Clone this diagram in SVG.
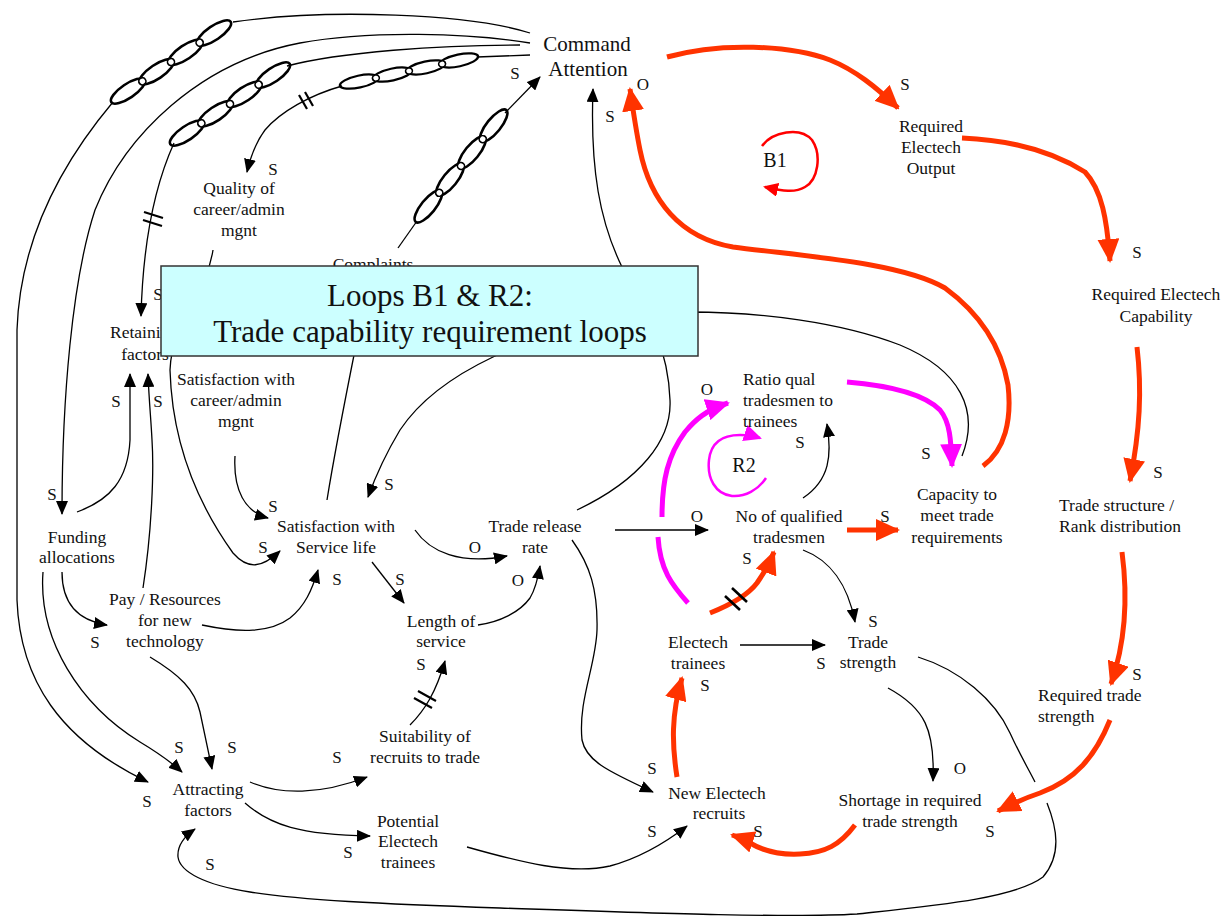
<svg xmlns="http://www.w3.org/2000/svg" width="1231" height="917" viewBox="0 0 1231 917">
<style>
.ln{fill:none;stroke:#000;stroke-width:1.3}
.red{fill:none;stroke:#FF3300;stroke-width:5}
.mag{fill:none;stroke:#FF00FF;stroke-width:5}
.hash{stroke:#000;stroke-width:2.2;fill:none}
.hr{stroke:#000;stroke-width:2.6;fill:none}
.ch ellipse{fill:none;stroke:#000;stroke-width:2.6}
.ch circle{fill:#fff;stroke:#000;stroke-width:1.6}
.t{font-family:"Liberation Serif","Times New Roman",serif;font-size:17.5px;fill:#111;text-anchor:middle}
.ts{text-anchor:start}
.p{font-family:"Liberation Serif","Times New Roman",serif;font-size:17px;fill:#111;text-anchor:middle}
</style>
<defs>
<marker id="ab" markerUnits="userSpaceOnUse" markerWidth="14" markerHeight="12" refX="13" refY="6" orient="auto"><path d="M0,0 L14,6 L0,12 z" fill="#000"/></marker>
<marker id="ar" markerUnits="userSpaceOnUse" markerWidth="24" markerHeight="22" refX="22" refY="11" orient="auto"><path d="M0,0 L24,11 L0,22 z" fill="#FF3300"/></marker>
<marker id="am" markerUnits="userSpaceOnUse" markerWidth="24" markerHeight="22" refX="22" refY="11" orient="auto"><path d="M0,0 L24,11 L0,22 z" fill="#FF00FF"/></marker>
<marker id="ab1" markerUnits="userSpaceOnUse" markerWidth="15" markerHeight="14" refX="13" refY="7" orient="auto"><path d="M0,0 L15,7 L0,14 z" fill="#FF0000"/></marker>
<marker id="ar2" markerUnits="userSpaceOnUse" markerWidth="18" markerHeight="17" refX="16" refY="8.5" orient="auto"><path d="M0,0 L18,8.5 L0,17 z" fill="#FF00FF"/></marker>
<g id="chainlink" class="ch">
<ellipse cx="-52" cy="0" rx="20" ry="7"/>
<ellipse cx="-17.5" cy="0" rx="20" ry="7"/>
<ellipse cx="17.5" cy="0" rx="20" ry="7"/>
<ellipse cx="52" cy="0" rx="20" ry="7"/>
<circle cx="-34.5" cy="0" r="3.5"/>
<circle cx="0" cy="0" r="3.5"/>
<circle cx="34.5" cy="0" r="3.5"/>
</g>
</defs>
<rect width="1231" height="917" fill="#fff"/>
<g id="connectors">
<path class="ln" d="M530,33 C470,14 330,8 233,22"/>
<path class="ln" d="M113,102 C60,165 20,240 17,330 L17,600 C20,680 60,740 148,782" marker-end="url(#ab)"/>
<path class="ln" d="M530,43 C470,33 370,30 300,43 C200,62 125,135 95,210 C72,280 62,400 62,514" marker-end="url(#ab)"/>
<path class="ln" d="M520,45 C440,45 340,52 287,66"/>
<path class="ln" d="M174,143 C155,185 143,240 141,316" marker-end="url(#ab)"/>
<path class="ln" d="M530,55 L477,57"/>
<path class="ln" d="M342,86 C310,95 280,112 265,130 C256,142 251,155 247,172" marker-end="url(#ab)"/>
<path class="ln" d="M398,248 L417,221"/>
<path class="ln" d="M505,113 L540,77" marker-end="url(#ab)"/>
<path class="ln" d="M577,510 C640,480 672,440 670,400 C668,340 640,300 622,267 C600,222 590,170 593,89" marker-end="url(#ab)"/>
<path class="ln" d="M962,456 C980,410 960,370 900,345 C840,322 760,312 690,312 C600,315 530,340 493,357 C455,375 420,400 400,430 C388,450 376,475 368,497" marker-end="url(#ab)"/>
<path class="ln" d="M213,250 C205,300 172,320 170,370 C172,440 195,500 233,553 C248,570 262,568 280,551" marker-end="url(#ab)"/>
<path class="ln" d="M327,500 C335,450 345,400 356,345"/>
<path class="ln" d="M235,456 C233,490 245,512 268,518" marker-end="url(#ab)"/>
<path class="ln" d="M77,512 C110,500 128,480 130,440 L130,374" marker-end="url(#ab)"/>
<path class="ln" d="M143,588 C152,530 154,470 152,440 C151,420 149,400 148,374" marker-end="url(#ab)"/>
<path class="ln" d="M62,572 C62,600 75,620 107,625" marker-end="url(#ab)"/>
<path class="ln" d="M43,572 C38,640 80,705 140,742 C160,754 172,763 182,772" marker-end="url(#ab)"/>
<path class="ln" d="M150,657 C180,675 195,690 200,712 L212,769" marker-end="url(#ab)"/>
<path class="ln" d="M202,625 C240,633 270,633 290,618 C305,606 312,590 318,570" marker-end="url(#ab)"/>
<path class="ln" d="M415,530 C430,552 460,565 507,556" marker-end="url(#ab)"/>
<path class="ln" d="M372,562 L404,603" marker-end="url(#ab)"/>
<path class="ln" d="M478,625 C500,622 520,612 530,598 C536,588 538,578 540,566" marker-end="url(#ab)"/>
<path class="ln" d="M410,725 C425,710 436,692 445,661" marker-end="url(#ab)"/>
<path class="ln" d="M250,782 C280,795 320,795 367,777" marker-end="url(#ab)"/>
<path class="ln" d="M245,803 C270,825 300,835 370,836" marker-end="url(#ab)"/>
<path class="ln" d="M467,847 C520,862 570,875 610,866 C640,858 665,843 687,826" marker-end="url(#ab)"/>
<path class="ln" d="M572,540 C590,565 598,590 597,630 C596,665 578,700 582,740 C586,760 605,770 653,792" marker-end="url(#ab)"/>
<path class="ln" d="M615,530 L708,530" marker-end="url(#ab)"/>
<path class="ln" d="M803,498 C830,480 832,455 827,424" marker-end="url(#ab)"/>
<path class="ln" d="M803,550 C830,560 848,585 855,622" marker-end="url(#ab)"/>
<path class="ln" d="M740,645 L825,645" marker-end="url(#ab)"/>
<path class="ln" d="M888,688 C925,708 935,730 933,781" marker-end="url(#ab)"/>
<path class="ln" d="M918,657 C960,670 995,700 1010,733 C1020,755 1028,768 1035,782 M1047,803 C1057,828 1062,855 1043,877 C1015,898 940,905 857,914 C790,918 650,913 500,908 C380,904 300,900 250,892 C205,885 180,872 178,857 C177,845 185,836 195,829" marker-end="url(#ab)"/>
<use href="#chainlink" transform="translate(171,62) rotate(-34)"/>
<use href="#chainlink" transform="translate(230,104) rotate(-34)"/>
<use href="#chainlink" transform="translate(409,71) rotate(-12) scale(0.98,0.85)"/>
<use href="#chainlink" transform="translate(461,166) rotate(-51)"/>
<path class="hash" d="M144,212 L163,218 M143,220 L162,226"/>
<path class="hash" d="M299,95 L307,109 M305,92 L313,106"/>
<path class="hash" d="M414,698 L432,708 M418,691 L436,701"/>
<path class="red" d="M667,57 C720,42 790,45 830,60 C855,70 876,87 898,108" marker-end="url(#ar)"/>
<path class="red" d="M962,138 C1010,140 1050,150 1085,172 C1102,190 1107,220 1110,261" marker-end="url(#ar)"/>
<path class="red" d="M1137,347 C1142,390 1140,430 1130,481" marker-end="url(#ar)"/>
<path class="red" d="M1122,552 C1127,590 1128,635 1111,684" marker-end="url(#ar)"/>
<path class="red" d="M1110,720 C1095,757 1075,780 1040,793 C1025,798 1012,804 998,811" marker-end="url(#ar)"/>
<path class="red" d="M855,825 C840,845 825,853 800,854 C780,855 765,852 750,843 C744,840 738,837 732,835" marker-end="url(#ar)"/>
<path class="red" d="M677,777 C672,745 671,715 682,678" marker-end="url(#ar)"/>
<path class="red" d="M710,613 C730,605 748,595 757,583 C764,573 769,565 774,552" marker-end="url(#ar)"/>
<path class="red" d="M847,530 L898,530" marker-end="url(#ar)"/>
<path class="red" d="M983,466 C1005,450 1012,420 1008,385 C1000,340 975,310 945,288 C900,262 800,256 733,247 C680,238 650,200 640,150 C636,130 633,110 630,89" marker-end="url(#ar)"/>
<path class="hr" d="M725,596 L740,610 M732,588 L747,602"/>
<path class="mag" d="M688,603 C672,585 660,570 658,537 M662,517 C662,480 668,455 685,432 C695,420 706,410 728,403" marker-end="url(#am)"/>
<path class="mag" d="M847,382 C895,386 925,395 940,410 C950,422 951,440 952,466" marker-end="url(#am)"/>
<path d="M762,146 C772,132 800,126 812,140 C822,155 818,180 805,187 C795,193 783,191 765,187" fill="none" stroke="#FF0000" stroke-width="2.5" marker-end="url(#ab1)"/>
<path d="M766,478 C758,490 745,497 732,496 C715,494 707,478 709,460 C711,442 722,435 740,435 C748,435 754,436 760,438" fill="none" stroke="#FF00FF" stroke-width="2.5" marker-end="url(#ar2)"/>
</g>
<g id="n-command"><text class="t" style="font-size:21px"><tspan x="587" y="51">Command</tspan><tspan x="588" y="76">Attention</tspan></text></g>
<g id="n-reqoutput"><text class="t"><tspan x="931" y="132">Required</tspan><tspan x="931" y="153">Electech</tspan><tspan x="931" y="174">Output</tspan></text></g>
<g id="n-reqcap"><text class="t"><tspan x="1156" y="300">Required Electech</tspan><tspan x="1156" y="322">Capability</tspan></text></g>
<g id="n-tradestruct"><text class="t ts"><tspan x="1059" y="511">Trade structure /</tspan><tspan x="1059" y="532">Rank distribution</tspan></text></g>
<g id="n-reqtrade"><text class="t ts"><tspan x="1038" y="701">Required trade</tspan><tspan x="1038" y="722">strength</tspan></text></g>
<g id="n-shortage"><text class="t"><tspan x="910" y="806">Shortage in required</tspan><tspan x="910" y="827">trade strength</tspan></text></g>
<g id="n-tradestrength"><text class="t"><tspan x="868" y="648">Trade</tspan><tspan x="868" y="668">strength</tspan></text></g>
<g id="n-capacity"><text class="t"><tspan x="957" y="500">Capacity to</tspan><tspan x="957" y="521">meet trade</tspan><tspan x="957" y="543">requirements</tspan></text></g>
<g id="n-noqual"><text class="t"><tspan x="789" y="522">No of qualified</tspan><tspan x="789" y="543">tradesmen</tspan></text></g>
<g id="n-ratio"><text class="t ts"><tspan x="743" y="385">Ratio qual</tspan><tspan x="743" y="406">tradesmen to</tspan><tspan x="743" y="427">trainees</tspan></text></g>
<g id="n-trainees"><text class="t"><tspan x="698" y="648">Electech</tspan><tspan x="698" y="669">trainees</tspan></text></g>
<g id="n-newrecruits"><text class="t"><tspan x="717" y="799">New Electech</tspan><tspan x="719" y="819">recruits</tspan></text></g>
<g id="n-release"><text class="t"><tspan x="535" y="532">Trade release</tspan><tspan x="535" y="553">rate</tspan></text></g>
<g id="n-length"><text class="t"><tspan x="441" y="627">Length of</tspan><tspan x="441" y="647">service</tspan></text></g>
<g id="n-suitability"><text class="t"><tspan x="425" y="742">Suitability of</tspan><tspan x="425" y="763">recruits to trade</tspan></text></g>
<g id="n-potential"><text class="t"><tspan x="408" y="827">Potential</tspan><tspan x="408" y="847">Electech</tspan><tspan x="408" y="868">trainees</tspan></text></g>
<g id="n-attracting"><text class="t"><tspan x="208" y="795">Attracting</tspan><tspan x="208" y="816">factors</tspan></text></g>
<g id="n-pay"><text class="t"><tspan x="165" y="605">Pay / Resources</tspan><tspan x="165" y="626">for new</tspan><tspan x="165" y="647">technology</tspan></text></g>
<g id="n-funding"><text class="t"><tspan x="77" y="543">Funding</tspan><tspan x="77" y="563">allocations</tspan></text></g>
<g id="n-retaining"><text class="t"><tspan x="144" y="338">Retaining</tspan><tspan x="145" y="360">factors</tspan></text></g>
<g id="n-satcareer"><text class="t"><tspan x="236" y="385">Satisfaction with</tspan><tspan x="236" y="406">career/admin</tspan><tspan x="236" y="427">mgnt</tspan></text></g>
<g id="n-satservice"><text class="t"><tspan x="336" y="532">Satisfaction with</tspan><tspan x="336" y="553">Service life</tspan></text></g>
<g id="n-quality"><text class="t"><tspan x="239" y="194">Quality of</tspan><tspan x="239" y="215">career/admin</tspan><tspan x="239" y="236">mgnt</tspan></text></g>
<g id="n-complaints"><text class="t" x="373" y="270">Complaints</text></g>
<g id="polarities">
<text class="p" x="273" y="175">S</text>
<text class="p" x="158" y="300">S</text>
<text class="p" x="515" y="79">S</text>
<text class="p" x="643" y="90">O</text>
<text class="p" x="610" y="122">S</text>
<text class="p" x="905" y="90">S</text>
<text class="p" x="1137" y="258">S</text>
<text class="p" x="1158" y="478">S</text>
<text class="p" x="1137" y="680">S</text>
<text class="p" x="990" y="837">S</text>
<text class="p" x="960" y="774">O</text>
<text class="p" x="873" y="627">S</text>
<text class="p" x="821" y="669">S</text>
<text class="p" x="885" y="522">S</text>
<text class="p" x="926" y="459">S</text>
<text class="p" x="800" y="448">S</text>
<text class="p" x="707" y="395">O</text>
<text class="p" x="697" y="522">O</text>
<text class="p" x="747" y="564">S</text>
<text class="p" x="705" y="691">S</text>
<text class="p" x="652" y="774">S</text>
<text class="p" x="652" y="837">S</text>
<text class="p" x="758" y="837">S</text>
<text class="p" x="475" y="553">O</text>
<text class="p" x="518" y="586">O</text>
<text class="p" x="389" y="490">S</text>
<text class="p" x="273" y="512">S</text>
<text class="p" x="263" y="553">S</text>
<text class="p" x="337" y="585">S</text>
<text class="p" x="400" y="585">S</text>
<text class="p" x="421" y="670">S</text>
<text class="p" x="337" y="763">S</text>
<text class="p" x="348" y="858">S</text>
<text class="p" x="179" y="753">S</text>
<text class="p" x="232" y="753">S</text>
<text class="p" x="147" y="807">S</text>
<text class="p" x="210" y="870">S</text>
<text class="p" x="95" y="648">S</text>
<text class="p" x="116" y="407">S</text>
<text class="p" x="158" y="407">S</text>
<text class="p" x="52" y="500">S</text>
<text class="p" x="775" y="167" style="font-size:20px">B1</text>
<text class="p" x="744" y="472" style="font-size:20px">R2</text>
</g>
<g id="title">
<rect x="161" y="266" width="537" height="90" fill="#CCFFFF" stroke="#333" stroke-width="1.5"/>
<text class="t" style="font-size:31px"><tspan x="430" y="306">Loops B1 &amp; R2:</tspan><tspan x="430" y="342">Trade capability requirement loops</tspan></text>
</g>
</svg>
